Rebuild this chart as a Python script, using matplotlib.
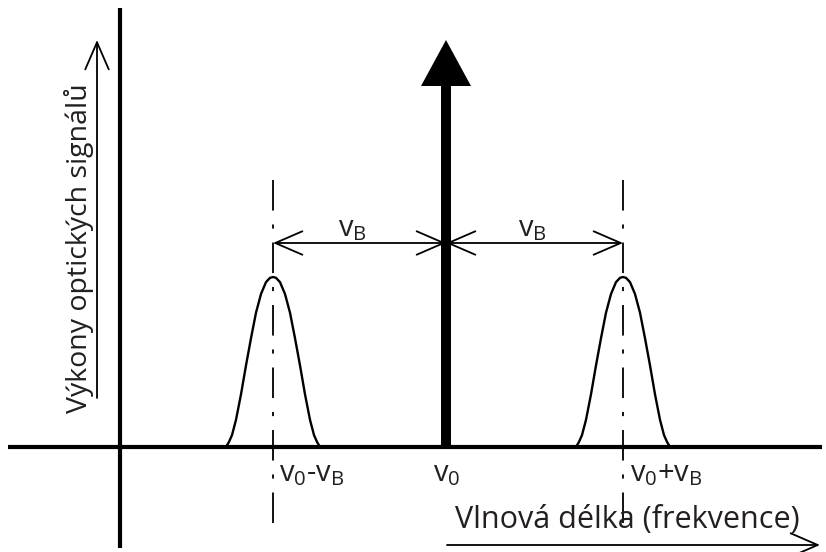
import matplotlib
matplotlib.use("Agg")
import matplotlib.pyplot as plt
from matplotlib.patches import FancyArrow

plt.rcParams['font.family'] = ['Open Sans', 'DejaVu Sans']
plt.rcParams['mathtext.fontset'] = 'custom'
plt.rcParams['mathtext.rm'] = 'Open Sans'
plt.rcParams['lines.scale_dashes'] = False

# Data (pixel positions)
carrier_x = 446
side_centres = [273, 623]
baseline_y = 447
peak_top_y = 277
# peak profile: offset from centre (px) and relative height
profile_dx = [-47, -44, -41, -37, -32, -27, -22, -17, -12, -7, -3, 0,
              3, 7, 12, 17, 22, 27, 32, 37, 41, 44, 47]
profile_h = [0.0, 0.03, 0.07, 0.16, 0.31, 0.48, 0.64, 0.79, 0.90, 0.97, 0.995, 1.0,
             0.995, 0.97, 0.90, 0.79, 0.64, 0.48, 0.31, 0.16, 0.07, 0.03, 0.0]

labels_below = [r'v$_\mathregular{0}$-v$_\mathregular{B}$',
                r'v$_\mathregular{0}$',
                r'v$_\mathregular{0}$+v$_\mathregular{B}$']
labels_below_x = [279, 433, 630]
label_vb = r'v$_\mathregular{B}$'
label_vb_x = [352, 532]
xlabel = 'Vlnová délka (frekvence)'
ylabel = 'Výkony optických signálů'

txt = '#231f20'

fig = plt.figure(figsize=(8.26, 5.52), dpi=100)
ax = fig.add_axes([0, 0, 1, 1])
ax.set_xlim(0, 826)
ax.set_ylim(552, 0)
ax.axis('off')

# main axes lines
ax.plot([8, 822], [baseline_y, baseline_y], color='black', lw=3.0, solid_capstyle='butt')
ax.plot([120, 120], [8, 548], color='black', lw=3.0, solid_capstyle='butt')

# side peaks
height = baseline_y - peak_top_y
for c in side_centres:
    xs = [c + d for d in profile_dx]
    ys = [baseline_y - h * height for h in profile_h]
    ax.plot(xs, ys, color='black', lw=1.7, solid_joinstyle='round')
    ax.plot([c, c], [180, 532], color='black', lw=1.3,
            dashes=[22, 10, 3, 10])

# carrier arrow
ax.add_patch(FancyArrow(carrier_x, baseline_y, 0, -(baseline_y - 40), width=10,
                        head_width=50, head_length=46, length_includes_head=True,
                        color='black', lw=0))

# double arrows for v_B
arrow_y = 243
astyle = '<->,head_length=1.5,head_width=0.65'
for (x0, x1), lx in zip([(side_centres[0], carrier_x), (carrier_x, side_centres[1])],
                        label_vb_x):
    ax.annotate('', xy=(x1, arrow_y), xytext=(x0, arrow_y),
                arrowprops=dict(arrowstyle=astyle, color='black', lw=1.3,
                                shrinkA=0, shrinkB=0, mutation_scale=13))
    ax.text(lx, 236, label_vb, fontsize=21, color=txt, ha='center', va='baseline')

# labels under the axis
for lx, lab in zip(labels_below_x, labels_below):
    ax.text(lx, 481, lab, fontsize=21, color=txt, ha='left', va='baseline')

# x label and arrow
ax.text(455, 528, xlabel, fontsize=22, color=txt, ha='left', va='baseline')
ax.annotate('', xy=(820, 545), xytext=(447, 545),
            arrowprops=dict(arrowstyle='->,head_length=1.5,head_width=0.65',
                            color='black', lw=1.3, shrinkA=0, shrinkB=0,
                            mutation_scale=13))

# y label and arrow
ax.text(87, 413, ylabel, fontsize=20.5, color=txt, rotation=90,
        ha='left', va='baseline', rotation_mode='anchor')
ax.annotate('', xy=(97, 40), xytext=(97, 398),
            arrowprops=dict(arrowstyle='->,head_length=1.5,head_width=0.65',
                            color='black', lw=1.3, shrinkA=0, shrinkB=0,
                            mutation_scale=13))

fig.savefig('out.png', dpi=100)
